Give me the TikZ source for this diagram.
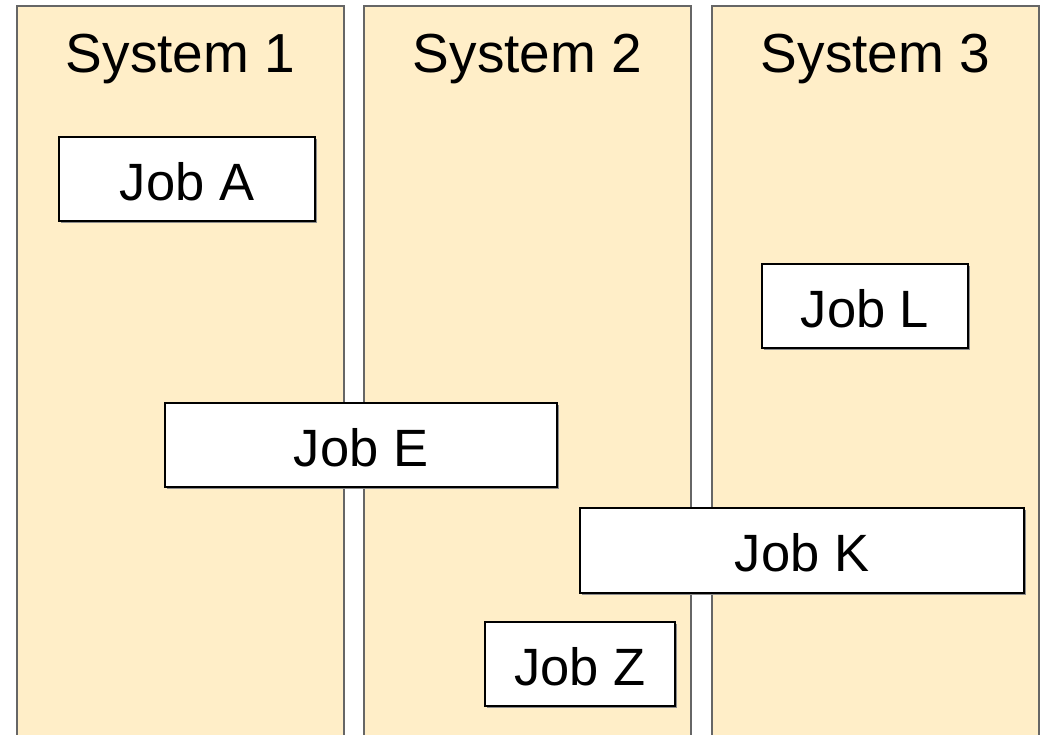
\documentclass[tikz,border=0pt]{standalone}
\usepackage{fontspec}
\setmainfont{Liberation Sans}
\usetikzlibrary{shadows}
\definecolor{colfill}{HTML}{FFEEC8}
\begin{document}
\begin{tikzpicture}[x=1pt,y=-1pt,
  column/.style={fill=colfill,draw=black!60,line width=1.2pt},
  sysname/.style={anchor=base,font=\fontsize{55}{60}\selectfont,inner sep=0pt},
  jobbox/.style={draw=black,line width=1.1pt,fill=white,inner sep=0pt,
    minimum height=84pt,text height=42pt,text depth=0pt,
    font=\fontsize{52.5}{60}\selectfont,
    drop shadow={shadow xshift=1.5pt,shadow yshift=-1.5pt,fill=black!45,opacity=1}}]
\useasboundingbox (0,0) rectangle (1051,734);
\fill[white] (0,0) rectangle (1051,734);
\draw[column] (17,6) rectangle (344,745);
\draw[column] (364,6) rectangle (691,745);
\draw[column] (712,6) rectangle (1039,745);
\node[sysname] (s1) at (180.5,72) {System 1};
\node[sysname] (s2) at (527.5,72) {System 2};
\node[sysname] (s3) at (875.5,72) {System 3};
\node[jobbox,minimum width=256pt] (ja) at (187,179) {Job A};
\node[jobbox,minimum width=206pt] (jl) at (865,306) {Job L};
\node[jobbox,minimum width=392pt] (je) at (361,445) {Job E};
\node[jobbox,minimum width=444pt,minimum height=85pt] (jk) at (802,550.5) {Job K};
\node[jobbox,minimum width=190pt] (jz) at (580,664) {Job Z};
\end{tikzpicture}
\end{document}
